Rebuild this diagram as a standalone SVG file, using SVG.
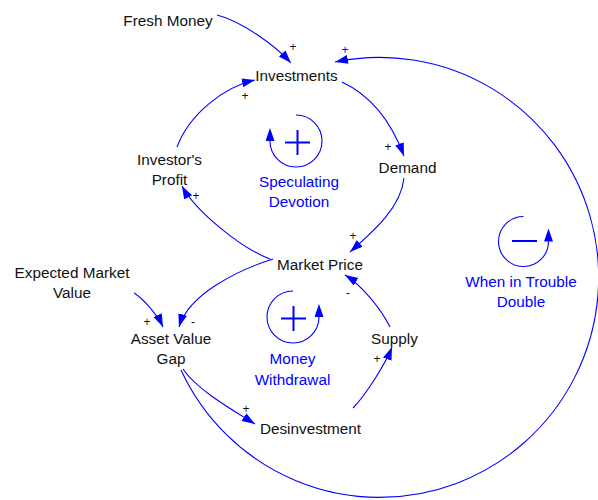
<svg xmlns="http://www.w3.org/2000/svg" width="598" height="500" viewBox="0 0 598 500">
<defs>
<style>
.lbl{font-family:"Liberation Sans",Arial,sans-serif;font-size:15.3px;fill:#111;text-anchor:middle}
.loop{font-family:"Liberation Sans",Arial,sans-serif;font-size:15.3px;fill:#0000ff;text-anchor:middle}
.pol{font-family:"Liberation Sans",Arial,sans-serif;font-size:12px;fill:#111;text-anchor:middle}
.link{fill:none;stroke:#0000ff;stroke-width:1.1;marker-end:url(#arr)}
.ring{fill:none;stroke:#0000ff;stroke-width:1.1;marker-end:url(#larr)}
.sign{stroke:#0000ff;stroke-width:2;fill:none}
</style>
<marker id="arr" markerUnits="userSpaceOnUse" markerWidth="14" markerHeight="10" refX="13" refY="4.5" orient="auto">
<path d="M0,0 L13,4.5 L0,9 Z" fill="#0000ff"/>
</marker>
<marker id="larr" markerUnits="userSpaceOnUse" markerWidth="14" markerHeight="10" refX="0" refY="4.5" orient="auto">
<path d="M0,0 L13,4.5 L0,9 Z" fill="#0000ff"/>
</marker>
</defs>

<g id="connectors">
<path id="c-fresh-inv" class="link" d="M217,15 C241,21 274,44.5 291,63"/>
<path id="c-gap-inv" class="link" d="M181,370 A219,220 0 1 0 335,62"/>
<path id="c-inv-dem" class="link" d="M342,82 C373.5,96.7 391.8,123.1 404,156"/>
<path id="c-dem-mp" class="link" d="M404,178 C401,208 372.5,232.2 350,252"/>
<path id="c-mp-prof" class="link" d="M270,259 C242,248.5 196,212 182,186"/>
<path id="c-prof-inv" class="link" d="M177,147 C189,115 223,87 255,80"/>
<path id="c-mp-gap" class="link" d="M273,259 C240,269.5 189,293 179,327"/>
<path id="c-exp-gap" class="link" d="M134,293 C144,299 158,316 163,327"/>
<path id="c-gap-des" class="link" d="M183,369 C197,390 234,411 255,424"/>
<path id="c-des-sup" class="link" d="M353,408 C365.6,395.4 385.5,363.7 392,347"/>
<path id="c-sup-mp" class="link" d="M390,327 C381,309 362,285.4 345,275"/>
<text class="pol" x="293" y="51">+</text>
<text class="pol" x="345" y="54" style="fill:#0000ff">+</text>
<text class="pol" x="245" y="100">+</text>
<text class="pol" x="388" y="151">+</text>
<text class="pol" x="353" y="240">+</text>
<text class="pol" x="196" y="200">+</text>
<text class="pol" x="193" y="326">-</text>
<text class="pol" x="147" y="326">+</text>
<text class="pol" x="246" y="413">+</text>
<text class="pol" x="377" y="363">+</text>
<text class="pol" x="348" y="297">-</text>
</g>

<g id="fresh-money"><text class="lbl" x="168" y="26">Fresh Money</text></g>
<g id="investments"><text class="lbl" x="296.5" y="81">Investments</text></g>
<g id="investors-profit"><text class="lbl" x="169.5" y="165">Investor's</text><text class="lbl" x="169.5" y="185">Profit</text></g>
<g id="demand"><text class="lbl" x="407.5" y="173">Demand</text></g>
<g id="market-price"><text class="lbl" x="320" y="270">Market Price</text></g>
<g id="expected-market-value"><text class="lbl" x="72" y="278">Expected Market</text><text class="lbl" x="72" y="298">Value</text></g>
<g id="asset-value-gap"><text class="lbl" x="171" y="344">Asset Value</text><text class="lbl" x="171" y="364">Gap</text></g>
<g id="supply"><text class="lbl" x="394.5" y="344">Supply</text></g>
<g id="desinvestment"><text class="lbl" x="310.5" y="434">Desinvestment</text></g>

<g id="loop-speculating-devotion">
<path class="ring" d="M296,115 A26,26 0 1 1 270,141"/>
<path class="sign" d="M285,142.5 H310 M297.5,130 V155"/>
<text class="loop" x="299" y="187">Speculating</text>
<text class="loop" x="299" y="207">Devotion</text>
</g>
<g id="loop-money-withdrawal">
<path class="ring" d="M293,291 A26,26 0 1 0 319,317"/>
<path class="sign" d="M281,318.5 H306 M293.5,306 V331"/>
<text class="loop" x="292.5" y="364">Money</text>
<text class="loop" x="292.5" y="385">Withdrawal</text>
</g>
<g id="loop-when-in-trouble">
<path class="ring" d="M523.5,216.5 A25,25 0 1 0 548.5,241.5"/>
<path class="sign" d="M512,241 H537"/>
<text class="loop" x="521" y="287">When in Trouble</text>
<text class="loop" x="521" y="307">Double</text>
</g>
</svg>
